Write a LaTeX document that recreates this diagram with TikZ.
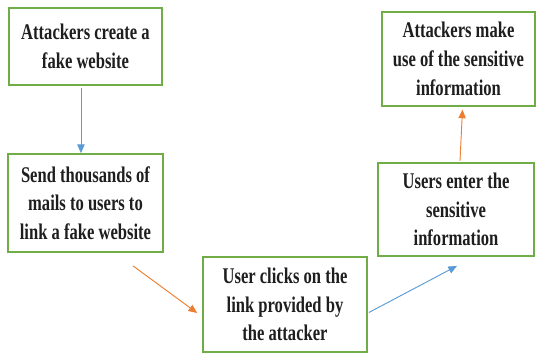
\documentclass[tikz,border=0pt]{standalone}
\usepackage{fontspec}
\setmainfont{Liberation Serif}[FakeStretch=0.74]
\usetikzlibrary{arrows.meta,calc}
\definecolor{boxgreen}{HTML}{70AD47}
\definecolor{arrowblue}{HTML}{5B9BD5}
\definecolor{arroworange}{HTML}{ED7D31}
\definecolor{textdark}{HTML}{1E1E1E}
\tikzset{
  box/.style={draw=boxgreen, line width=1.3pt, fill=white, align=center, inner sep=0pt,
    text=textdark, font=\bfseries\fontsize{16.8}{21.5}\selectfont},
  bluearrow/.style={draw=arrowblue, line width=0.7pt, -{Triangle[length=6.5pt,width=5.5pt]}},
  orangearrow/.style={draw=arroworange, line width=0.7pt, -{Triangle[length=6.5pt,width=5.5pt]}}
}
\begin{document}
\begin{tikzpicture}[x=0.75pt, y=-0.75pt]
\useasboundingbox (0,0) rectangle (536,356);
\node[box, minimum width=114.8pt, minimum height=57.8pt] (fake) at (85.5,46.5) {Attackers create a\\fake website};
\node[box, minimum width=116.3pt, minimum height=73.5pt] (mails) at (85.5,203) {Send thousands of\\mails to users to\\link a fake website};
\node[box, minimum width=123pt, minimum height=71.3pt] (clicks) at (285,304.5) {User clicks on the\\link provided by\\the attacker};
\node[box, minimum width=117pt, minimum height=69.8pt] (enter) at (456,209.5) {Users enter the\\sensitive\\information};
\node[box, minimum width=114.8pt, minimum height=70.5pt] (use) at (458.5,59) {Attackers make\\use of the sensitive\\information};
\draw[bluearrow] ([xshift=-3.4pt, yshift=-1.5pt]fake.south) -- ([xshift=-3.4pt]mails.north);
\draw[orangearrow] ($(mails.south)+(47.5,13)$) -- ($(clicks.west)+(-5,8.5)$);
\draw[bluearrow] ($(clicks.east)+(1,8)$) -- ($(enter.south)+(1,9)$);
\draw[orangearrow] ([xshift=3pt, yshift=1pt]enter.north) -- ([xshift=3pt, yshift=-2pt]use.south);
\end{tikzpicture}
\end{document}
